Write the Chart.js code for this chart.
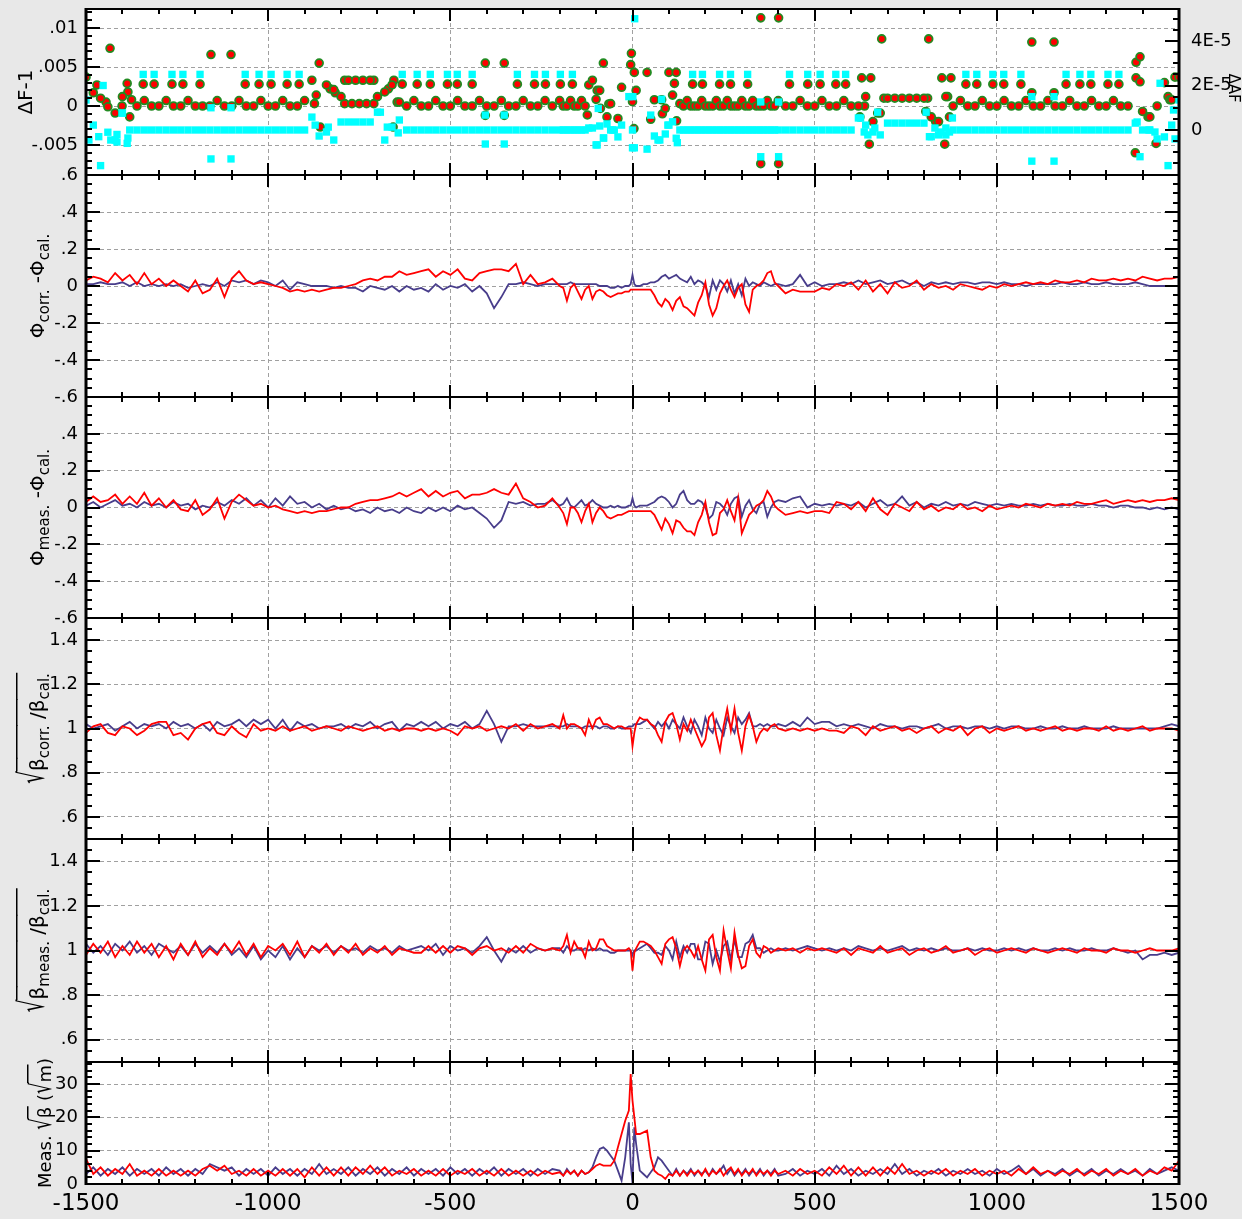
<!DOCTYPE html>
<html>
<head>
<meta charset="utf-8">
<script src="https://cdn.jsdelivr.net/npm/chart.js@4.4.1/dist/chart.umd.min.js"></script>
<style>
  html, body { margin: 0; padding: 0; background: #e8e8e8; }
  canvas { display: block; }
</style>
</head>
<body>
<canvas id="optics" width="1242" height="1219"></canvas>
<script>
// BPM positions (m), shared by every panel
const sPos = [
  -1500,-1480,-1460,-1440,-1420,-1400,-1380,-1360,-1340,-1320,
  -1300,-1280,-1260,-1240,-1220,-1200,-1180,-1160,-1140,-1120,
  -1100,-1080,-1060,-1040,-1020,-1000,-980,-960,-940,-920,
  -900,-880,-860,-840,-820,-800,-780,-760,-740,-720,
  -700,-680,-660,-640,-620,-600,-580,-560,-540,-520,
  -500,-480,-460,-440,-420,-400,-380,-360,-340,-320,
  -300,-280,-260,-240,-220,
  -200,-190,-180,-170,-160,-150,-140,-130,-120,-110,
  -100,-90,-80,-70,-60,-50,-40,-30,-20,-10,
  -5,0,5,
  10,20,30,40,50,60,70,80,90,100,
  110,120,130,140,150,160,170,180,190,200,
  210,220,230,240,250,260,270,280,290,300,
  310,320,330,340,350,360,370,380,390,400,
  420,440,460,480,500,520,540,560,580,600,
  620,640,660,680,700,720,740,760,780,800,
  820,840,860,880,900,920,940,960,980,1000,
  1020,1040,1060,1080,1100,1120,1140,1160,1180,1200,
  1220,1240,1260,1280,1300,1320,1340,1360,1380,1400,
  1420,1440,1460,1480,1500
];

// panel 1: AF-1 in units of 1e-3 (left axis), dAF in units of 1e-6 (right axis)
const afRed = [
  3.7,1.7,1.0,-0.1,-0.9,1.2,-1.4,0,0.7,0, 0,0.7,0,0,0.7,0,0,0,0.7,0,
  0,0.7,0,0,0.7,0,0,0.7,0,0, 0.7,3.3,5.5,2.7,2.1,1.2,3.3,3.3,3.3,3.3,
  1.2,1.8,2.7,0.5,0,0.7,0,0,0.7,0, 0,0.7,0,0,0.7,0,0,0.7,0,0, 0.7,0,0,0.7,0,
  0.7,0,0,0.7,0,0,0.7,0,2.7,3.3, 0.85,2.0,5.5,-1.4,0.3,null,-1.6,2.4,null,null,
  5.3,0.55,4.3,
  2.0,null,null,4.3,-1.7,0.8,null,0.8,-0.3,4.3, 1.4,4.3,0.3,0,0.7,0,0,0,0.7,0,
  0,0,0.7,0,0,0.7,0,0,0,0.7, 0,0,0.7,0,0,0,0.7,0,0,0.7,
  0,0,0.7,0,0,0.7,0,0,0.7,0, 0,1.2,-2.0,-0.9,1.0,1.0,1.0,1.0,1.0,1.0,
  -1.4,-2.0,1.2,0,0.7,0,0,0.7,0,0, 0.7,0,0,0.7,0,0,0.7,0,0,0.7,
  0,0,0.7,0,0,0.7,0,0,-6.0,-0.7, -1.4,0,3.0,0.8,3.7
];
const afCyan = [
  13.5,2.2,-16,-1,-4.5,7.6,0,0,0,0, 0,0,0,0,0,0,0,0,0,0,
  0,0,0,0,0,0,0,0,0,0, 0,5.8,-2.7,-0.9,-4.5,3.6,3.6,3.6,3.6,3.6,
  8,-4.5,1.3,4.5,0,0,0,0,0,0, 0,0,0,0,0,0,0,0,0,0, 0,0,0,0,0,
  0,0,0,0,0,0,0,0,0.9,0.9, -6.7,1.8,-3.6,2.7,0,0,-3.1,2.2,null,15,
  null,0,-8,
  null,null,null,-8.6,6.7,-2.7,-4.5,13.8,-1.8,2.2, 3.7,-3.7,0,0,0,0,0,0,0,0,
  0,0,0,0,0,0,0,0,0,0, 0,0,0,0,0,0,0,0,0,0,
  0,0,0,0,0,0,0,0,0,0, 5.4,2.2,-0.9,-2.2,3.1,3.1,3.1,3.1,3.1,3.1,
  -3,-2.2,0.9,0,0,0,0,0,0,0, 0,0,0,0,0,0,0,0,0,0,
  0,0,0,0,0,0,0,0,3.1,0, 0,-4,-3.1,2.2,13.5
];
// extra panel-1 readings [s, value]
const afRedPts = [
  [-1470,2.7],[-1445,0.5],[-1434,7.4],[-1401,0],[-1387,2.9],[-1385,1.8],[-1375,0.8],
  [-1343,2.8],[-1313,2.8],[-1264,2.8],[-1234,2.8],[-1187,2.8],[-1063,2.8],[-1025,2.8],[-992,2.8],[-948,2.8],[-915,2.8],
  [-632,2.8],[-591,2.8],[-555,2.8],[-508,2.8],[-481,2.8],[-440,2.8],[-316,2.8],[-269,2.8],[-239,2.8],[-198,2.8],[-165,2.8],
  [165,2.8],[192,2.8],[239,2.8],[269,2.8],[316,2.8],[431,2.8],[481,2.8],[515,2.8],[558,2.8],[585,2.8],
  [915,2.8],[945,2.8],[989,2.8],[1019,2.8],[1066,2.8],[1190,2.8],[1228,2.8],[1258,2.8],[1305,2.8],[1335,2.8],
  [-1157,6.6],[-1102,6.6],[-404,5.5],[-352,5.5],[-404,-1.2],[-352,-1.2],[352,11.3],[401,11.3],[352,-7.4],[401,-7.4],
  [684,8.6],[813,8.6],[1096,8.2],[1157,8.2],[1096,1.7],[1157,1.7],
  [-873,0.3],[-868,1.4],[-857,-2.7],[-830,2.2],[-816,1.7],[-790,3.3],[-710,3.3],[-790,0.3],[-770,0.3],[-750,0.3],
  [-730,0.3],[-710,0.3],[-670,2.2],[-655,3.3],[-657,-2.7],[-646,0.5],
  [629,3.6],[654,3.6],[650,-4.9],[637,0],[624,-1.4],[673,-0.9],[849,3.6],[874,3.6],[857,-4.9],[865,1.2],
  [870,-1.4],[832,-2.0],[805,-0.7],[690,1.0],[810,1.0],
  [-124,-1.15],[-88,-0.3],[-3,6.75],[4,-2.9],[82,-1.0],[115,2.9],[121,-1.9],[-65,0.26],[-97,2.0],
  [1382,5.6],[1393,6.3],[1382,3.6],[1393,3.1],[1415,-1.4],[1437,-4.8],[1470,1.2],[1489,3.7],[1475,0.8]
];
const afCyanPts = [
  [-1343,25],[-1313,25],[-1264,25],[-1234,25],[-1187,25],[-1063,25],[-1025,25],[-992,25],[-948,25],[-915,25],
  [-632,25],[-591,25],[-555,25],[-508,25],[-481,25],[-440,25],[-316,25],[-269,25],[-239,25],[-198,25],[-165,25],
  [165,25],[192,25],[239,25],[269,25],[316,25],[431,25],[481,25],[515,25],[558,25],[585,25],
  [915,25],[945,25],[989,25],[1019,25],[1066,25],[1190,25],[1228,25],[1258,25],[1305,25],[1335,25],
  [-1157,10],[-1102,10],[-1157,-13],[-1102,-13],[-404,6.7],[-352,6.7],[-404,-6.3],[-352,-6.3],
  [352,12.6],[401,12.6],[352,-12],[401,-12],[1096,15],[1157,15],[1096,-14],[1157,-14],[6,50],
  [-1492,-4.5],[-1465,-3],[-1453,20],[-1432,-4.5],[-1415,-2],[-1415,-5.4],[-1401,7.6],[-1387,-6],[-1385,-3.6],
  [-871,2.2],[-835,1.3],[-692,8],[-673,1.3],[-643,-1.3],
  [-97,-6.7],[-79,-3.6],[-55,0],[1,15],[0,-8],[75,-4.5],[97,2.2],[123,-5.7],[-94,9.7],
  [626,5.4],[636,-0.9],[646,-2.2],[665,0.9],[673,8],[806,8],[815,-3],[830,0.9],[846,-0.9],[860,-2.2],[870,-0.9],[878,5.4],
  [1385,3.6],[1393,-12],[1418,0],[1434,-0.9],[1448,21],[1470,-16],[1485,9],[1489,-4]
];

// panels 2 and 3: phase difference, units of 0.01
const phiCorrRed = [
  3,5,4,2,7,3,6,1,7,1, 4,0,3,0,-3,3,-4,-2,4,-6, 4,8,3,1,2,1,0,-1,-3,-2,
  -3,-2,-3,-2,-1,-1,0,1,3,4, 3,5,5,8,6,7,8,9,5,8, 6,9,4,3,7,8,9,9,8,12, 1,6,1,2,4,
  0,-1,-8,-1,1,-3,-7,-2,0,-7, -3,-2,-3,-5,-6,-5,-4,-4,-3,-3, -2,-2,-2,
  -2,-2,-2,-2,-2,-5,-9,-11,-7,-9, -13,-8,-6,-11,-12,-14,-16,-9,-5,2,
  -10,-16,-12,-4,0,3,-2,-6,-1,1, -10,-14,-2,0,1,3,7,8,2,0,
  -4,-2,-3,-3,-3,-1,-2,1,0,2, -2,3,-3,1,-4,2,-1,0,3,-2, 1,-1,0,-2,1,0,-1,-2,0,-1,
  1,0,1,2,1,2,1,3,2,2, 3,2,4,3,3,4,3,4,3,5, 4,3,4,4,5
];
const phiCorrBlue = [
  1,1,2,1,1,2,0,2,0,1, 0,1,0,1,-1,0,1,0,2,0, 3,2,3,1,3,2,0,3,-2,2,
  1,0,0,0,-1,0,-1,-1,-3,0, -1,-2,0,-3,0,-2,-1,-3,1,-2, 0,-1,1,-3,0,-4,-12,-6,1,1, 2,1,0,1,1,
  1,1,1,2,1,1,1,1,1,1, 1,0,0,0,-1,-1,0,-1,0,0, 1,6,1,
  0,0,1,1,2,2,3,5,6,4, 5,6,4,3,2,5,1,3,2,0, -6,3,-2,3,1,-3,3,-4,1,-5, 4,0,2,1,0,2,1,0,1,1,
  0,1,6,0,2,0,1,1,2,1, 3,1,2,3,1,2,3,1,2,0, 2,1,2,1,2,2,1,2,2,1,
  2,1,1,0,1,1,1,1,2,1, 1,2,1,1,2,1,1,1,2,1, 0,0,0,0,0
];
const phiMeasRed = [
  3,6,3,4,7,2,6,2,8,1, 5,0,4,-1,-2,4,-4,-1,5,-6, 3,7,4,1,2,0,1,-1,-2,-3,
  -2,-3,-2,-2,-1,0,0,2,3,4, 4,5,6,8,6,8,10,6,9,6, 8,9,5,7,7,8,10,8,7,13, 5,3,0,1,5,
  0,-3,-9,0,0,-3,-8,-2,2,-8, -3,0,-2,-5,-6,-5,-4,-4,-3,-2, -2,-2,-2,
  -2,-2,-2,-2,-2,-4,-8,-12,-6,-9, -14,-7,-8,-11,-13,-13,-15,-8,-4,3,
  -8,-15,-14,-3,-1,4,-2,-7,5,-14, -9,-4,-2,1,2,4,9,6,1,-1,
  -4,-3,-2,-3,-2,-2,-3,3,2,-1, 3,-2,5,-1,-4,2,0,-2,3,-1, 1,-2,0,-1,2,-1,0,-2,1,-1,
  0,1,0,2,1,0,2,1,2,1, 3,2,2,3,4,2,3,4,3,4, 3,4,4,5,4
];
const phiMeasBlue = [
  1,3,0,2,4,1,2,0,3,1, 2,0,3,1,2,-1,1,0,3,1, 4,2,5,1,4,0,5,1,6,2,
  3,0,2,-1,1,-1,0,-2,-1,-3, 0,-2,-1,-3,0,-2,-3,0,-2,0, -2,1,-1,0,-3,-6,-11,-7,3,2, 3,1,2,2,4,
  1,2,5,1,0,2,4,1,2,4, 2,1,0,0,1,0,1,0,0,1, 1,5,1,
  0,1,1,1,2,3,5,6,5,3, 0,2,7,9,4,2,2,4,3,0, -6,-4,3,2,0,-4,2,5,6,-5, 1,4,-1,-3,2,3,-5,0,3,4,
  3,5,6,0,2,1,2,1,2,1, 3,0,2,4,1,2,6,1,3,0, 2,1,3,1,2,1,3,2,1,2,
  1,2,1,1,2,1,2,1,1,2, 1,1,2,1,1,0,1,1,0,0, -1,0,-1,0,-1
];

// panels 4 and 5: sqrt(beta) ratio minus 1, units of 0.01
const betaCorrRed = [
  -2,1,2,-2,-3,1,0,-3,-1,2, 3,3,-3,-2,-5,0,2,3,-2,-3, 1,-2,-4,2,-1,0,-1,1,-1,0,
  1,-1,0,1,0,-1,1,0,-1,0, 1,-1,0,-1,0,0,-1,0,-1,0, -1,-3,1,0,1,-1,0,1,0,2, -1,2,0,1,2,
  0,6,0,2,2,1,0,-3,4,0, 4,5,2,2,1,0,1,1,0,0, 0,-8,-2,
  2,5,4,4,2,1,-3,-6,3,6, 7,2,-5,2,-1,4,0,-4,-8,-5, 5,7,-3,-10,1,9,-1,9,-2,-10, 1,6,1,-6,-2,0,-1,1,2,0,
  -1,0,-1,0,-1,0,-1,-1,-2,1, 0,-3,1,-1,0,1,-1,0,-2,0, 1,-2,0,-1,1,-3,0,1,-2,0,
  -1,0,1,-1,0,-1,0,1,-1,0, -1,0,0,-1,1,-1,0,-1,0,1, -1,0,0,0,-1
];
const betaCorrBlue = [
  2,0,1,2,-1,1,3,0,2,1, 2,0,3,1,2,0,2,-1,3,1, 2,4,1,4,2,4,0,4,-1,3,
  1,2,0,1,1,2,0,2,1,3, 0,2,3,-1,2,1,3,1,3,0, 2,1,3,0,2,8,2,-6,1,1, 2,1,1,1,1,
  1,1,2,1,1,1,0,1,1,1, 1,0,1,1,0,0,1,0,0,1, 1,1,2,
  2,2,3,4,2,0,3,1,3,0, 4,2,0,5,1,-2,4,1,-3,5, 0,-2,4,0,-3,5,1,-2,5,2, 4,7,1,1,2,1,2,1,1,2,
  1,3,1,5,2,3,3,1,2,1, 2,1,0,2,1,1,0,1,1,0, 1,2,0,1,1,0,1,1,0,1,
  0,1,1,0,0,1,0,0,1,0, 0,1,0,0,0,1,0,0,0,0, 0,0,1,2,1
];
const betaMeasRed = [
  -2,3,-1,4,-3,2,-2,4,-1,3, -3,2,-4,3,-2,4,-3,1,-2,3, -1,4,-2,3,-3,2,0,3,-2,4,
  -3,2,-1,3,-2,2,-1,3,-2,1, -1,2,-2,1,0,-1,-1,2,-1,2, -1,2,1,-2,1,2,0,1,-1,2, -1,3,1,0,1,
  0,2,7,-1,4,1,1,-3,4,0, 1,5,5,2,1,0,0,0,0,1, 0,-9,-1,
  1,4,4,3,2,0,-3,-6,3,5, 6,1,-7,0,2,0,-3,2,-4,-9, 5,7,-3,-9,9,0,-8,8,-2,-8, -7,2,5,-1,-3,2,1,-1,0,1,
  0,1,-1,1,0,1,0,-1,1,-2, 1,0,-1,2,-1,0,1,-2,0,1, -1,0,2,-1,0,1,-2,0,1,-1,
  0,1,0,-1,1,0,-1,0,1,0, -1,1,0,0,-1,1,0,0,-1,0, 1,0,0,0,1
];
const betaMeasBlue = [
  3,-1,2,-2,3,0,4,-1,2,-2, 3,1,-1,2,-2,3,-1,2,-1,3, -2,1,-3,2,-4,0,-3,2,-4,1,
  -3,2,0,2,-1,2,0,1,-1,2, 0,1,-1,2,0,1,2,0,3,-2, 2,0,1,-1,2,6,0,-5,1,-1, 2,-1,1,0,1,
  1,-1,2,0,0,1,0,1,0,1, 0,1,0,0,-1,-1,0,0,0,0, 0,-2,0,
  0,1,2,3,1,-1,-1,-2,2,0, -4,4,-3,2,-1,3,3,-4,-4,4, 3,-6,0,-5,2,4,-4,5,-3,-3, 3,4,7,1,1,-1,0,1,0,0,
  1,0,1,2,1,0,1,0,1,0, 2,1,0,1,0,1,2,0,1,0, 1,0,1,0,0,1,0,1,0,0,
  1,0,1,0,1,0,0,1,0,1, 0,0,1,0,0,1,0,-1,0,-4, -2,-2,-1,-2,-1
];

// panel 6: measured sqrt(beta), sqrt(m)
const sqrtBetaRed = [
  7.5,3,5,2.5,4.5,3,6,2.5,4,2.5, 4.5,2.5,4,2.5,4,2.5,4.5,5.5,4,5.5, 3,4,2.5,4.5,2.5,4,2.5,4.5,2.5,4.5,
  2,5,2.5,5,2.5,5,2.5,5,3,5.5, 3,5,2.5,4,3,4.5,2.5,4,2.5,4.5, 2.5,4,3,4.5,2.5,4,2.5,4.5,2.5,4, 2.5,4,2.5,4,3,
  3.5,2.5,4,3,4,2.5,4,3,3.5,4.5, 5.5,6,5.5,5.5,5.5,7,11,15,19,22, 33,25,20,
  15,15,15.5,16,8,4,3,2.5,1.5,3, 2.5,4,2.5,4,2.5,4,3,4,2.5,4.5, 2.5,4,3,4.5,2.5,4,5,3,4.5,2.5, 4,3,4.5,2.5,4,3,4,2.5,4,3,
  4,2.5,4.5,3,4,2.5,5,3,5.5,2.5, 5,2.5,5,2.5,5,3,6,3,4,2.5, 4,3,4.5,2.5,4,3,4.5,2.5,4,3,
  4,2.5,4.5,3,5,3,4,2.5,4,3, 4.5,2.5,4,3,4.5,2.5,4,3,4.5,2.5, 4,3,5,4,7
];
const sqrtBetaBlue = [
  3,5,2.5,4.5,3,5,2.5,4.5,3,4.5, 2.5,5,3,4.5,2.5,4.5,3,6,5,4, 5,2.5,4.5,3,4.5,2.5,5,3,4.5,2.5,
  4.5,3,6,3,4.5,3,5,2.5,4.5,3, 5,2.5,4.5,3,5,2.5,4.5,3,4.5,2.5, 5,3,4.5,2.5,4.5,3,5,2.5,4.5,3, 4.5,2.5,4.5,3,4.5,
  4,2.5,4.5,3,4,2.5,4,3,3.5,5, 8,10.5,11,10,8.5,7,4,1,8,18.5, 6,0.3,17,
  12,4,3,2,3.5,5,8,7,5.5,4, 2.5,4.5,2.5,4,3,4.5,2.5,4,3,4, 2.5,4.5,3,4,5.5,3,4.5,2.5,4,3, 4.5,2.5,4,3,4.5,2.5,4,3,4.5,2.5,
  3,4.5,2.5,4,3,4.5,2.5,5.5,3,4.5, 2.5,4,3,4.5,3,6,3,4.5,2.5,4, 3,4.5,2.5,4,3,4.5,3,4,2.5,4.5,
  3,4,5.5,3,4.5,2.5,4,3,4.5,2.5, 4,3,4.5,2.5,4,3,4.5,3,4,2.5, 4.5,3,4,5,4
];

// tick labels
const xTicks = [-1500, -1000, -500, 0, 500, 1000, 1500];
const afTicks = [-0.005, 0, 0.005, 0.01];
const dafTicks = [0, 2e-5, 4e-5];
const phiTicksTop = [-0.6, -0.4, -0.2, 0, 0.2, 0.4, 0.6];
const phiTicks = [-0.6, -0.4, -0.2, 0, 0.2, 0.4];
const betaTicks = [0.6, 0.8, 1, 1.2, 1.4];
const sqrtTicks = [0, 10, 20, 30];

[['afRed', afRed], ['afCyan', afCyan], ['phiCorrRed', phiCorrRed], ['phiCorrBlue', phiCorrBlue],
 ['phiMeasRed', phiMeasRed], ['phiMeasBlue', phiMeasBlue], ['betaCorrRed', betaCorrRed],
 ['betaCorrBlue', betaCorrBlue], ['betaMeasRed', betaMeasRed], ['betaMeasBlue', betaMeasBlue],
 ['sqrtBetaRed', sqrtBetaRed], ['sqrtBetaBlue', sqrtBetaBlue]].forEach(([n, a]) => {
  if (a.length !== sPos.length) throw new Error(n + ' has ' + a.length + ' values, expected ' + sPos.length);
});

const RED = '#ff0000';
const BLUE = '#483d8b';
const GRID = '#a0a0a0';
const FONT = '"DejaVu Sans", sans-serif';
Chart.defaults.font.family = FONT;
Chart.defaults.color = '#000';

const panels = [
  {id: 'y1', h: 166, min: -0.008846, max: 0.012436, ticks: afTicks, minor: 0.001, major: 0.005},
  {id: 'y2', h: 222, min: -0.6, max: 0.6, ticks: phiTicksTop, minor: 0.05, major: 0.2},
  {id: 'y3', h: 221, min: -0.6, max: 0.6, ticks: phiTicks, minor: 0.05, major: 0.2},
  {id: 'y4', h: 221, min: 0.5, max: 1.5, ticks: betaTicks, minor: 0.05, major: 0.2},
  {id: 'y5', h: 223, min: 0.5, max: 1.5, ticks: betaTicks, minor: 0.05, major: 0.2},
  {id: 'y6', h: 122, min: 0, max: 36.6, ticks: sqrtTicks, minor: 2, major: 10}
];
const dafAxis = {min: -2.022e-5, max: 5.438e-5, minor: 0.5e-5, major: 2e-5};

function fmtTick(v) {
  return String(+v.toFixed(6)).replace(/^(-?)0\./, '$1.');
}
function fmtE(v) {
  return v === 0 ? '0' : Math.round(v * 1e5) + 'E-5';
}

const toPts = (vals, k, base) => sPos.map((x, i) => ({x, y: vals[i] === null ? null : base + vals[i] * k}));
const pairPts = (list, k) => list.map(([x, v]) => ({x, y: v * k}));

function lineSet(vals, k, base, color, axis) {
  return {data: toPts(vals, k, base), yAxisID: axis, borderColor: color, borderWidth: 1.8,
          pointRadius: 0, tension: 0, fill: false};
}
function cyanSet(data) {
  return {data, yAxisID: 'r1', showLine: false, pointStyle: 'rect', pointRadius: 5.2,
          pointBackgroundColor: '#00ffff', pointBorderWidth: 0, borderColor: '#00ffff'};
}
function redDotSet(data) {
  return {data, yAxisID: 'y1', showLine: false, pointStyle: 'circle', pointRadius: 3.9,
          pointBackgroundColor: RED, pointBorderColor: '#228b22', pointBorderWidth: 1.8, borderColor: RED};
}

const datasets = [
  cyanSet(toPts(afCyan, 1e-6, 0)),
  cyanSet(pairPts(afCyanPts, 1e-6)),
  redDotSet(toPts(afRed, 1e-3, 0)),
  redDotSet(pairPts(afRedPts, 1e-3)),
  lineSet(phiCorrRed, 0.01, 0, RED, 'y2'),
  lineSet(phiCorrBlue, 0.01, 0, BLUE, 'y2'),
  lineSet(phiMeasRed, 0.01, 0, RED, 'y3'),
  lineSet(phiMeasBlue, 0.01, 0, BLUE, 'y3'),
  lineSet(betaCorrRed, 0.01, 1, RED, 'y4'),
  lineSet(betaCorrBlue, 0.01, 1, BLUE, 'y4'),
  lineSet(betaMeasRed, 0.01, 1, RED, 'y5'),
  lineSet(betaMeasBlue, 0.01, 1, BLUE, 'y5'),
  lineSet(sqrtBetaRed, 1, 0, RED, 'y6'),
  lineSet(sqrtBetaBlue, 1, 0, BLUE, 'y6')
];

const scales = {
  x: {
    type: 'linear', position: 'bottom', min: -1500, max: 1500,
    afterBuildTicks: s => { s.ticks = xTicks.map(value => ({value})); },
    afterFit: s => { s.height = 35; s.paddingLeft = 0; s.paddingRight = 0; },
    ticks: {callback: v => String(v), font: {size: 23}, color: '#000', padding: 6, maxRotation: 0, autoSkip: false},
    grid: {color: GRID, drawTicks: false},
    border: {display: false, dash: [4, 3]}
  }
};
panels.forEach((p, i) => {
  scales[p.id] = {
    type: 'linear', position: 'left', stack: 'left', stackWeight: p.h, weight: panels.length - i,
    min: p.min, max: p.max,
    afterBuildTicks: s => { s.ticks = p.ticks.map(value => ({value})); },
    afterFit: s => { s.width = 86; s.paddingTop = 0; s.paddingBottom = 0; },
    ticks: {callback: fmtTick, font: {size: 18}, color: '#000', padding: 8, autoSkip: false},
    grid: {color: GRID, drawTicks: false},
    border: {display: false, dash: [4, 3]}
  };
  const first = i === 0;
  scales['r' + (i + 1)] = {
    type: 'linear', position: 'right', stack: 'right', stackWeight: p.h, weight: i + 1,
    min: first ? dafAxis.min : p.min, max: first ? dafAxis.max : p.max,
    afterBuildTicks: s => { s.ticks = (first ? dafTicks : p.ticks).map(value => ({value})); },
    afterFit: s => { s.width = 63; s.paddingTop = 0; s.paddingBottom = 0; },
    ticks: {display: first, callback: fmtE, font: {size: 18}, color: '#000', padding: 4, autoSkip: false},
    grid: {display: false},
    border: {display: false}
  };
});

// axis titles; sub = subscript, root = radical sign, over = under the radical bar
const titles = [
  {panel: 0, x: 32, size: 20, rot: -1, parts: [{t: 'ΔF-1'}]},
  {panel: 1, x: 44, size: 20, rot: -1, parts: [{t: 'Φ'}, {t: 'corr.', sub: 1}, {t: ' -Φ'}, {t: 'cal.', sub: 1}]},
  {panel: 2, x: 44, size: 20, rot: -1, parts: [{t: 'Φ'}, {t: 'meas.', sub: 1}, {t: ' -Φ'}, {t: 'cal.', sub: 1}]},
  {panel: 3, x: 44, size: 20, rot: -1, rootH: 28, parts: [{t: '√', root: 1}, {t: 'β', over: 1}, {t: 'corr.', sub: 1, over: 1},
    {t: ' /β', over: 1}, {t: 'cal.', sub: 1, over: 1}]},
  {panel: 4, x: 44, size: 20, rot: -1, rootH: 28, parts: [{t: '√', root: 1}, {t: 'β', over: 1}, {t: 'meas.', sub: 1, over: 1},
    {t: ' /β', over: 1}, {t: 'cal.', sub: 1, over: 1}]},
  {panel: 5, x: 51, size: 18, rot: -1, rootH: 24, parts: [{t: 'Meas. '}, {t: '√', root: 1}, {t: 'β', over: 1}, {t: ' ('},
    {t: '√', root: 1}, {t: 'm', over: 1}, {t: ')'}]},
  {panel: 0, x: 1229, size: 15, rot: 1, right: 1, parts: [{t: 'ΔAF'}]}
];

function drawTitle(ctx, t, cy) {
  ctx.save();
  ctx.translate(t.x, cy);
  ctx.rotate(t.rot * Math.PI / 2);
  ctx.fillStyle = '#000';
  ctx.strokeStyle = '#000';
  ctx.textAlign = 'left';
  ctx.textBaseline = 'alphabetic';
  const items = t.parts.map(p => {
    const size = p.sub ? Math.round(t.size * 0.75) : t.size;
    ctx.font = size + 'px ' + FONT;
    const m = ctx.measureText(p.t);
    return {p, font: ctx.font, w: m.width, asc: m.actualBoundingBoxAscent};
  });
  const total = items.reduce((s, it) => s + it.w, 0);
  let x = -total / 2;
  items.forEach(it => {
    ctx.font = it.font;
    const dy = it.p.sub ? 5 : 0;
    if (it.p.root) {
      const sy = t.rootH / it.asc;
      ctx.save();
      ctx.scale(1, sy);
      ctx.fillText(it.p.t, x, 0);
      ctx.restore();
    } else {
      ctx.fillText(it.p.t, x, dy);
    }
    if (it.p.over) {
      ctx.lineWidth = 1.5;
      ctx.beginPath();
      ctx.moveTo(x - 0.5, -t.rootH + 0.75);
      ctx.lineTo(x + it.w + 0.5, -t.rootH + 0.75);
      ctx.stroke();
    }
    x += it.w;
  });
  ctx.restore();
}

function yMarks(ctx, s, minor, major, x0, dir) {
  const n0 = Math.ceil(s.min / minor - 1e-9), n1 = Math.floor(s.max / minor + 1e-9);
  for (let n = n0; n <= n1; n++) {
    const v = n * minor;
    const isMajor = Math.abs(v / major - Math.round(v / major)) < 1e-6;
    const y = Math.round(s.getPixelForValue(v));
    ctx.beginPath();
    ctx.moveTo(x0, y);
    ctx.lineTo(x0 + dir * (isMajor ? 14 : 6), y);
    ctx.stroke();
  }
}

const frame = {
  id: 'frame',
  beforeDraw(chart) {
    const {ctx, chartArea: a} = chart;
    ctx.save();
    ctx.fillStyle = '#fff';
    ctx.fillRect(a.left, a.top, a.right - a.left, a.bottom - a.top);
    ctx.restore();
  },
  afterDraw(chart) {
    const {ctx, chartArea: a, scales: sc} = chart;
    const xs = sc.x;
    ctx.save();
    ctx.strokeStyle = '#000';
    ctx.lineWidth = 2;
    panels.forEach((p, i) => {
      const ys = sc[p.id];
      yMarks(ctx, ys, p.minor, p.major, a.left, 1);
      if (i === 0) yMarks(ctx, sc.r1, dafAxis.minor, dafAxis.major, a.right, -1);
      else yMarks(ctx, ys, p.minor, p.major, a.right, -1);
    });
    const edges = [sc.y1.top].concat(panels.map(p => sc[p.id].bottom));
    edges.forEach((yb, k) => {
      const y = Math.round(yb);
      const up = k === 0 ? 0 : 1;
      const down = k === edges.length - 1 ? 0 : 1;
      ctx.beginPath();
      ctx.moveTo(a.left, y);
      ctx.lineTo(a.right, y);
      ctx.stroke();
      for (let n = -15; n <= 15; n++) {
        const px = Math.round(xs.getPixelForValue(n * 100));
        const len = n % 5 === 0 ? 12 : 5;
        ctx.beginPath();
        ctx.moveTo(px, y - up * len);
        ctx.lineTo(px, y + down * len);
        ctx.stroke();
      }
    });
    ctx.lineWidth = 3;
    ctx.beginPath();
    ctx.moveTo(a.left, a.top - 1);
    ctx.lineTo(a.left, a.bottom + 1);
    ctx.moveTo(a.right, a.top - 1);
    ctx.lineTo(a.right, a.bottom + 1);
    ctx.stroke();
    titles.forEach(t => {
      const s = sc[panels[t.panel].id];
      const cy = (s.top + s.bottom) / 2 + (t.right ? -4 : 0);
      drawTitle(ctx, t, cy);
    });
    ctx.restore();
  }
};

new Chart(document.getElementById('optics'), {
  type: 'line',
  data: {datasets},
  options: {
    responsive: false,
    animation: false,
    events: [],
    layout: {padding: {top: 9, left: 0, right: 0, bottom: 0}},
    plugins: {legend: {display: false}, tooltip: {enabled: false}, title: {display: false}},
    scales
  },
  plugins: [frame]
});
</script>
</body>
</html>
